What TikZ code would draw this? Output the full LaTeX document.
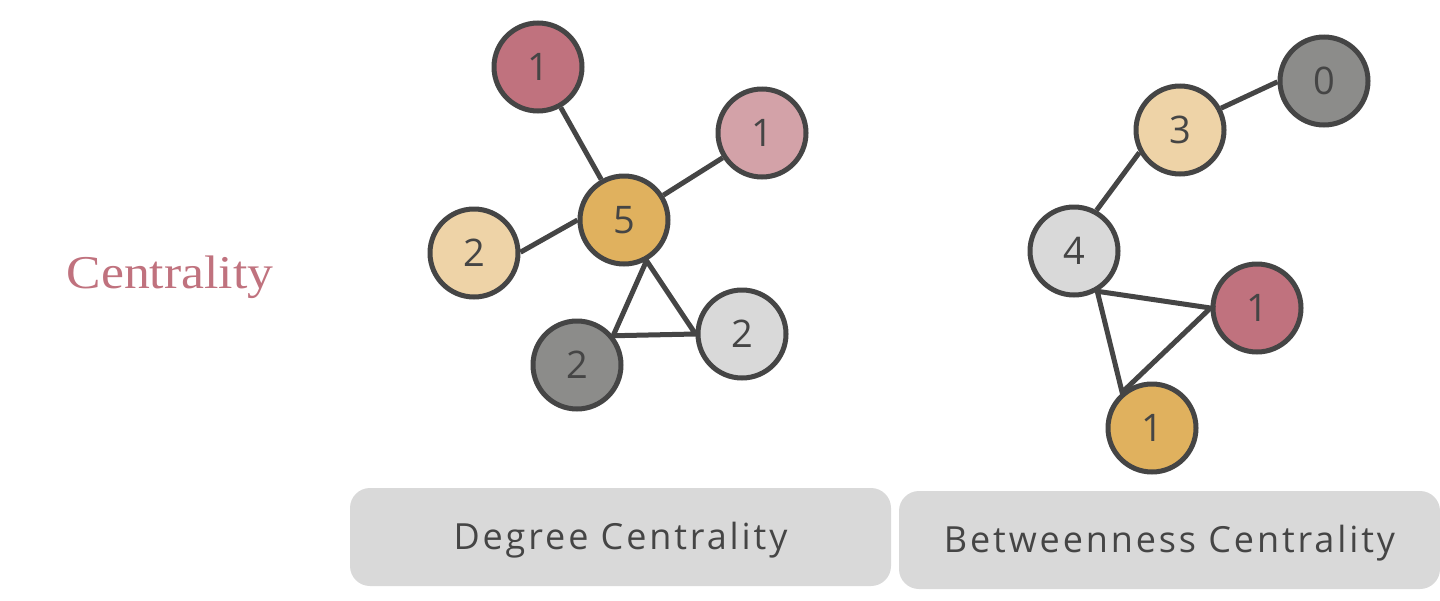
\documentclass[tikz,border=0pt]{standalone}
\usepackage{fontspec}
\setmainfont{Open Sans}
\newfontfamily\titlefont{Liberation Serif}
\newfontfamily\boxfont{Open Sans}[LetterSpace=8]
\usepackage{tikz}
\definecolor{ink}{HTML}{454545}
\definecolor{rose}{HTML}{C0727E}
\definecolor{blush}{HTML}{D3A2A8}
\definecolor{gold}{HTML}{E0B15E}
\definecolor{sand}{HTML}{EED3A7}
\definecolor{stone}{HTML}{8C8C8A}
\definecolor{mist}{HTML}{D9D9D9}
\tikzset{
  graphNode/.style={circle, draw=ink, line width=5pt, minimum size=88pt, inner sep=0pt,
    text=ink, text height=27pt, text depth=0pt, font=\fontsize{38}{38}\selectfont},
  graphEdge/.style={draw=ink, line width=5pt},
  labelBox/.style={fill=mist, rounded corners=20pt, minimum width=541pt, minimum height=98pt,
    text=ink, text height=25pt, text depth=0pt, font=\boxfont\fontsize{36}{36}\selectfont},
  titleText/.style={text=rose, anchor=base, xscale=1.1, font=\titlefont\fontsize{47}{47}\selectfont}
}

\begin{document}
\begin{tikzpicture}[x=1pt, y=-1pt]
  \useasboundingbox (0,0) rectangle (1440,600);

  \node[titleText] (title) at (170,288) {Centrality};

  % degree centrality
  \node[graphNode, fill=rose] (dTop) at (538,67) {1};
  \node[graphNode, fill=blush] (dRight) at (762,133) {1};
  \node[graphNode, fill=gold] (dHub) at (624,220) {5};
  \node[graphNode, fill=sand] (dLeft) at (474,253) {2};
  \node[graphNode, fill=stone] (dDark) at (577,365) {2};
  \node[graphNode, fill=mist] (dLight) at (742,334) {2};

  \draw[graphEdge] (dTop) -- (dHub);
  \draw[graphEdge] (dHub) -- (dRight);
  \draw[graphEdge] (dHub.180) -- (dLeft.1);
  \draw[graphEdge] (dHub.-61) -- (dDark.39) -- (dLight.180) -- cycle;

  % betweenness centrality
  \node[graphNode, fill=stone] (bZero) at (1324,81) {0};
  \node[graphNode, fill=sand] (bThree) at (1180,130) {3};
  \node[graphNode, fill=mist] (bFour) at (1074,251) {4};
  \node[graphNode, fill=rose] (bRight) at (1257,308) {1};
  \node[graphNode, fill=gold] (bLow) at (1152,428) {1};

  \draw[graphEdge] (bThree.28) -- (bZero.181);
  \draw[graphEdge] (bFour.61) -- (bThree.209);
  \draw[graphEdge] (bFour.-60) -- (bRight.180) -- (bLow.130) -- cycle;

  \node[labelBox] (degBox) at (620.5,537) {Degree Centrality};
  \node[labelBox] (betBox) at (1169.5,540) {Betweenness Centrality};
\end{tikzpicture}
\end{document}
